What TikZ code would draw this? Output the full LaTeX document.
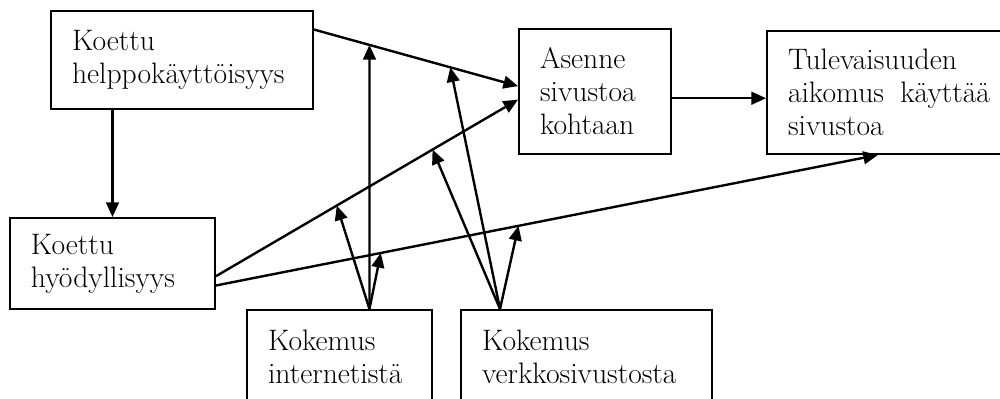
\documentclass[tikz,border=0pt]{standalone}
\usepackage{fontspec}
\usetikzlibrary{arrows.meta,calc}

\begin{document}
\begin{tikzpicture}[x=0.75pt,y=-0.75pt,
  box/.style={draw,line width=1.4pt,inner xsep=15.75pt,inner ysep=0pt,align=left,
    font=\fontsize{22.2}{24.75}\selectfont},
  arr/.style={line width=1.8pt,-{Triangle[length=11pt,width=9.5pt]}}]
  \path[use as bounding box,clip] (0,0) rectangle (1000,399);
  \node[box,minimum width=196.5pt,minimum height=73.5pt,text width=165pt]
       (koettuH) at (182,60) {Koettu\\helppokäyttöisyys};
  \node[box,minimum width=114pt,minimum height=93.75pt,text width=82.5pt]
       (asenne) at (595,91.5) {Asenne\\sivustoa\\kohtaan};
  \node[box,minimum width=183pt,minimum height=92.25pt,text width=151.5pt]
       (aikomus) at (889,92.5) {Tulevaisuuden\\aikomus\hfill käyttää\\sivustoa};
  \node[box,minimum width=153.75pt,minimum height=68.25pt,text width=122.25pt]
       (koettuHy) at (112.5,263.5) {Koettu\\hyödyllisyys};
  \node[box,minimum width=138.75pt,minimum height=70.5pt,text width=107.25pt]
       (kokInternet) at (339.5,357) {Kokemus\\internetistä};
  \node[box,minimum width=188.25pt,minimum height=70.5pt,text width=156.75pt]
       (kokVerkko) at (586.5,357) {Kokemus\\verkkosivustosta};
  \draw[arr] (koettuH.13) -- coordinate[pos=0.272] (m1a) coordinate[pos=0.668] (m1b) (asenne.176);
  \draw[arr] (koettuH.south -| koettuHy.north) -- (koettuHy.north);
  \draw[arr] (asenne.355) -- (asenne.355 -| aikomus.west);
  \draw[arr] (koettuHy.353) -- coordinate[pos=0.40] (m4a) coordinate[pos=0.717] (m4b) (asenne.186);
  \draw[arr] (koettuHy.348) -- coordinate[pos=0.249] (m5a) coordinate[pos=0.457] (m5b) (aikomus.260);
  \draw[arr] (kokInternet.58) -- (m1a);
  \draw[arr] (kokInternet.58) -- (m4a);
  \draw[arr] (kokInternet.58) -- (m5a);
  \draw[arr] (kokVerkko.151) -- (m1b);
  \draw[arr] (kokVerkko.151) -- (m4b);
  \draw[arr] (kokVerkko.151) -- (m5b);
\end{tikzpicture}
\end{document}
